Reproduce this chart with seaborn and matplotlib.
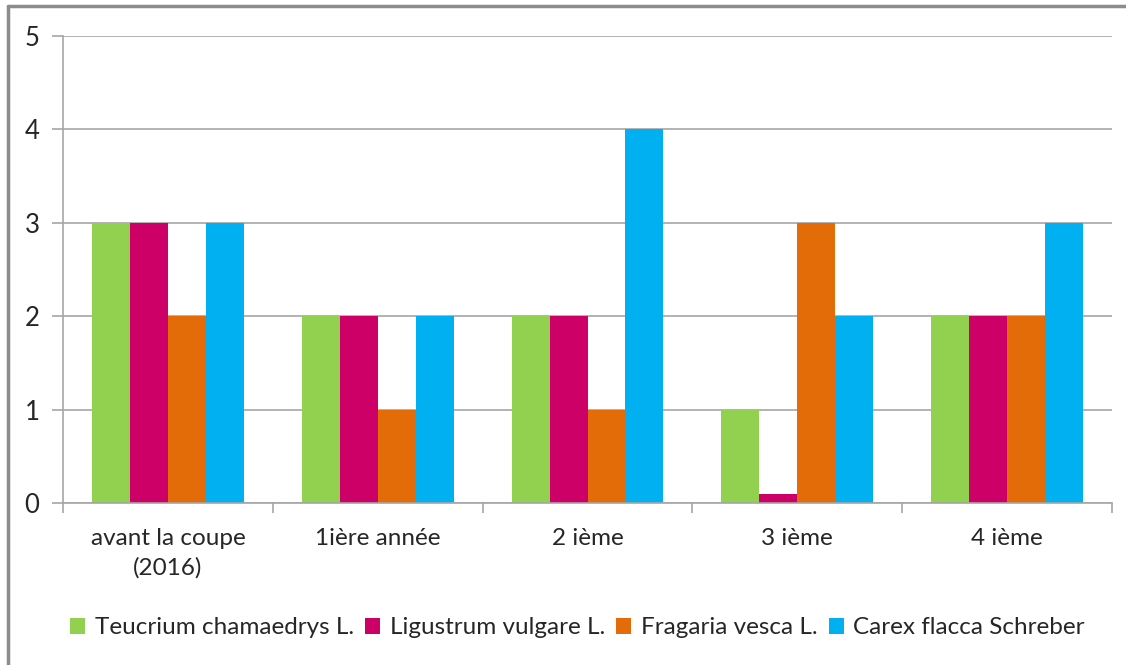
import matplotlib
matplotlib.use("Agg")
import matplotlib.pyplot as plt
import seaborn as sns
import pandas as pd
from matplotlib.lines import Line2D
from matplotlib.patches import Patch

categories = ["avant la coupe\n(2016)", "1ière année", "2 ième", "3 ième", "4 ième"]
series_names = ["Teucrium chamaedrys L.", "Ligustrum vulgare L.", "Fragaria vesca L.", "Carex flacca Schreber"]
teucrium = [3, 2, 2, 1, 2]
ligustrum = [3, 2, 2, 0.1, 2]
fragaria = [2, 1, 1, 3, 2]
carex = [3, 2, 4, 2, 3]
colors = ["#92D050", "#CC0066", "#E36C09", "#00B0F0"]
yticks = [0, 1, 2, 3, 4, 5]

rows = []
for name, vals in zip(series_names, [teucrium, ligustrum, fragaria, carex]):
    for c, v in zip(categories, vals):
        rows.append({"cat": c, "series": name, "value": v})
df = pd.DataFrame(rows)

sns.set_theme(style="white")
plt.rcParams['font.family'] = ['Lato', 'DejaVu Sans']
text_color = "#262626"
grid_color = "#A6A6A6"
fs = 17.5

fig = plt.figure(figsize=(11.26, 6.65), dpi=100)
ax = fig.add_axes([63/1126, 1-503/665, (1112-63)/1126, (503-36)/665])

sns.barplot(data=df, x="cat", y="value", hue="series", order=categories,
            hue_order=series_names, palette=colors, width=0.724,
            saturation=1, ax=ax, legend=False, linewidth=0, errorbar=None)

ax.set_ylim(0, 5)
ax.set_xlim(-0.5, len(categories) - 0.5)
ax.set_yticks(yticks)
ax.set_yticklabels([str(t) for t in yticks])
ax.yaxis.grid(True, color=grid_color, linewidth=1.2)
ax.set_axisbelow(True)
ax.set_xlabel("")
ax.set_ylabel("")
for s in ["top", "right"]:
    ax.spines[s].set_visible(False)
ax.spines["left"].set_color(grid_color)
ax.spines["bottom"].set_color(grid_color)
ax.spines["left"].set_linewidth(1.2)
ax.spines["bottom"].set_linewidth(1.2)

ax.tick_params(axis="y", length=8, width=1.2, color=grid_color, labelsize=18.5,
               labelcolor=text_color, pad=9, left=True)
ax.tick_params(axis="x", which="major", length=0, labelsize=fs, labelcolor=text_color, pad=18)
for lab in ax.get_xticklabels():
    lab.set_linespacing(1.45)
ax.set_xticks([i - 0.5 for i in range(len(categories) + 1)], minor=True)
ax.tick_params(axis="x", which="minor", length=7, width=1.2, color=grid_color, bottom=True)

handles = [Patch(facecolor=c, edgecolor="none") for c in colors]
fig.legend(handles, series_names, loc="center", bbox_to_anchor=(0.513, 1-628/665),
           ncol=4, frameon=False, fontsize=fs, labelcolor=text_color,
           handlelength=0.62, handleheight=0.62, handletextpad=0.4, columnspacing=0.45)

# outer chart border (top and left visible)
fig.add_artist(Line2D([8/1126, 8/1126], [0, 1-6/665], transform=fig.transFigure,
                      color="#8C8C8C", linewidth=2.5))
fig.add_artist(Line2D([8/1126, 1], [1-6/665, 1-6/665], transform=fig.transFigure,
                      color="#8C8C8C", linewidth=2.5))

fig.savefig("out.png", dpi=100)
